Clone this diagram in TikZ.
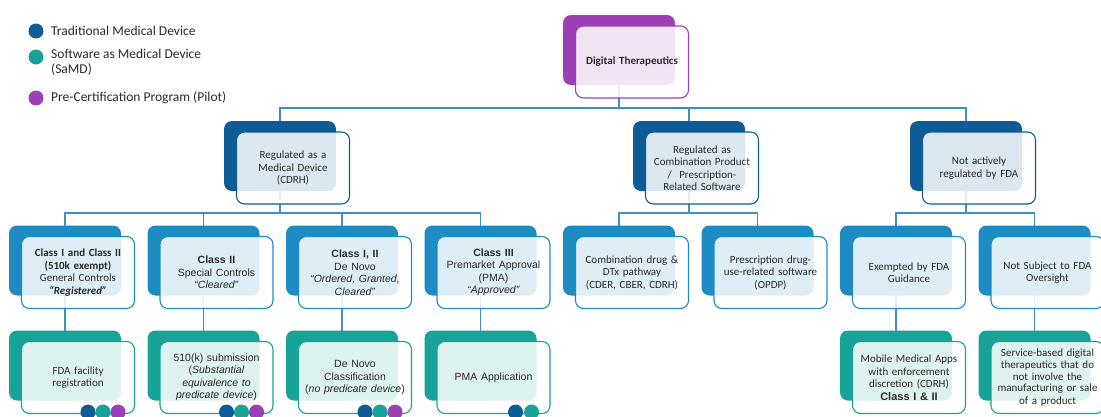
\documentclass[tikz,border=0pt]{standalone}
\usepackage{fontspec}
\setmainfont{Carlito}
\newfontfamily\arialf{Liberation Sans}
\usetikzlibrary{backgrounds}

\definecolor{cPurple}{HTML}{9C40B8}
\definecolor{cNavy}{HTML}{0D5C96}
\definecolor{cBlue}{HTML}{1E8CC4}
\definecolor{cTeal}{HTML}{17A398}
\definecolor{cLine}{HTML}{3F8FBF}
\definecolor{cText}{HTML}{2A2A2A}

\tikzset{
  backbox/.style={rectangle, rounded corners=8pt, minimum width=112pt,
    minimum height=70pt, inner sep=0pt, draw=none},
  frontbox/.style={rectangle, rounded corners=8pt, minimum width=113pt,
    minimum height=72pt, inner sep=0pt, fill=white, fill opacity=0.86,
    text opacity=1, line width=1.1pt, align=center, text width=110pt,
    text=cText, font=\fontsize{11}{12.5}\selectfont},
  conn/.style={draw=cLine, line width=1.3pt},
  dot/.style={circle, inner sep=0pt, minimum size=15pt, draw=none},
  legtext/.style={anchor=west, inner sep=0pt, text=cText, align=left,
    font=\fontsize{13.5}{15}\selectfont},
}

% one card: dark back plate plus the lighter labelled plate in front
\newcommand\tcard[5]{%
  \node[backbox, fill=#2] (#1B) at (#3,#4) {};
  \node[frontbox, draw=#2] (#1) at (#3+13,#4+12) {#5};
}

\begin{document}
\begin{tikzpicture}[x=1pt, y=-1pt]
\useasboundingbox (0,0) rectangle (1101,416);

% legend
\node[dot, fill=cNavy] (lg1) at (36,31) {};
\node[dot, fill=cTeal] (lg2) at (36,57) {};
\node[dot, fill=cPurple] (lg3) at (36,98) {};
\node[legtext] (lt1) at (51,31) {Traditional Medical Device};
\node[legtext, anchor=north west] (lt2) at (51,48.5) {Software as Medical Device\\(SaMD)};
\node[legtext] (lt3) at (51,98) {Pre-Certification Program (Pilot)};

% root
\tcard{top}{cPurple}{619}{50}{\textbf{Digital Therapeutics}}

% second level
\tcard{md}{cNavy}{280}{156}{Regulated as a\\Medical Device\\(CDRH)}
\tcard{cb}{cNavy}{689}{156}{Regulated as\\Combination Product\\/\ \ Prescription-\\Related Software}
\tcard{na}{cNavy}{966}{156}{Not actively\\regulated by FDA}

% third level
\tcard{cA}{cBlue}{65}{260.5}{\textbf{Class I and Class II}\\\textbf{(510k exempt)}\\General Controls\\\textbf{\textit{“Registered”}}}
\tcard{cB}{cBlue}{203.5}{260.5}{\arialf\fontsize{10.5}{12.5}\selectfont\textbf{Class II}\\Special Controls\\\textit{“Cleared”}}
\tcard{cC}{cBlue}{342}{260.5}{\arialf\fontsize{10.5}{12.5}\selectfont\textbf{Class I, II}\\De Novo\\\textit{“Ordered, Granted,}\\\textit{Cleared”}}
\tcard{cD}{cBlue}{480.5}{260.5}{\arialf\fontsize{10.5}{12.5}\selectfont\textbf{Class III}\\Premarket Approval\\(PMA)\\\textit{“Approved”}}
\tcard{cE}{cBlue}{619}{260.5}{Combination drug \&\\DTx pathway\\(CDER, CBER, CDRH)}
\tcard{cF}{cBlue}{757.5}{260.5}{Prescription drug-\\use-related software\\(OPDP)}
\tcard{cG}{cBlue}{896}{260.5}{Exempted by FDA\\Guidance}
\tcard{cH}{cBlue}{1034.5}{260.5}{Not Subject to FDA\\Oversight}

% fourth level
\tcard{dA}{cTeal}{65}{365.5}{FDA facility\\registration}
\tcard{dB}{cTeal}{203.5}{365.5}{\arialf\fontsize{10.5}{12.3}\selectfont 510(k) submission\\(\textit{Substantial}\\\textit{equivalence to}\\\textit{predicate device})}
\tcard{dC}{cTeal}{342}{365.5}{\arialf\fontsize{10.5}{12.5}\selectfont De Novo\\Classification\\(\textit{no predicate device})}
\tcard{dD}{cTeal}{480.5}{365.5}{\arialf\fontsize{10.5}{12.5}\selectfont PMA Application}
\tcard{dG}{cTeal}{896}{365.5}{Mobile Medical Apps\\with enforcement\\discretion (CDRH)\\{\arialf\bfseries Class I \& II}}
\tcard{dH}{cTeal}{1034.5}{365.5}{\fontsize{11}{11.7}\selectfont Service-based digital\\therapeutics that do\\not involve the\\manufacturing or sale\\of a product}

% pathway markers
\foreach \c in {dA,dB,dC}{
  \node[dot, fill=cNavy]   (\c m1) at ([shift={(-47,-2)}]\c.south east) {};
  \node[dot, fill=cTeal]   (\c m2) at ([shift={(-32,-2)}]\c.south east) {};
  \node[dot, fill=cPurple] (\c m3) at ([shift={(-17,-2)}]\c.south east) {};
}
\node[dot, fill=cNavy] (dDm1) at ([shift={(-35,-2)}]dD.south east) {};
\node[dot, fill=cTeal] (dDm2) at ([shift={(-19,-2)}]dD.south east) {};

% page fill and connectors, behind the cards
\begin{pgfonlayer}{background}
\fill[white] (0,0) rectangle (1101,416);
\coordinate (bus0) at (0,108);
\coordinate (bus1) at (0,213);
\draw[conn] (topB.center) -- (topB.center |- bus0) -| (mdB.center);
\draw[conn] (topB.center |- bus0) -| (cbB.center);
\draw[conn] (topB.center |- bus0) -| (naB.center);
\draw[conn] (mdB.center) -- (mdB.center |- bus1) -| (cAB.center);
\draw[conn] (mdB.center |- bus1) -| (cBB.center);
\draw[conn] (mdB.center |- bus1) -| (cCB.center);
\draw[conn] (mdB.center |- bus1) -| (cDB.center);
\draw[conn] (cbB.center) -- (cbB.center |- bus1) -| (cEB.center);
\draw[conn] (cbB.center |- bus1) -| (cFB.center);
\draw[conn] (naB.center) -- (naB.center |- bus1) -| (cGB.center);
\draw[conn] (naB.center |- bus1) -| (cHB.center);
\draw[conn] (cAB.center) -- (dAB.center);
\draw[conn] (cBB.center) -- (dBB.center);
\draw[conn] (cCB.center) -- (dCB.center);
\draw[conn] (cDB.center) -- (dDB.center);
\draw[conn] (cGB.center) -- (dGB.center);
\draw[conn] (cHB.center) -- (dHB.center);
\end{pgfonlayer}
\end{tikzpicture}
\end{document}
